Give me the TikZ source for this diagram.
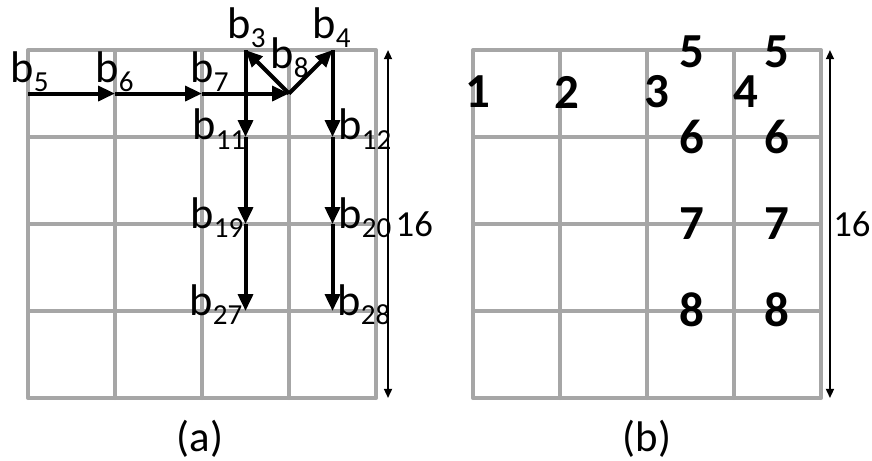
\documentclass[tikz,border=0pt]{standalone}
\usepackage{fontspec}
\setmainfont{Carlito}
\usetikzlibrary{arrows.meta}

% 带下标的块名 b_k
\newcommand{\bk}[1]{b\raisebox{-3pt}{\fontsize{9.5}{9.5}\selectfont #1}}

\begin{document}
\begin{tikzpicture}[>={Triangle[length=5.5pt,width=4.8pt]},
    gridline/.style={draw=black!35, line width=1.3pt, line cap=round},
    flow/.style={->, line width=1.3pt},
    dim/.style={{Triangle[length=3pt,width=2.6pt]}-{Triangle[length=3pt,width=2.6pt]}, line width=0.6pt},
    blab/.style={anchor=base west, inner sep=0pt, font=\fontsize{14.5}{14.5}\selectfont},
    num/.style={inner sep=0pt, font=\bfseries\fontsize{16}{16}\selectfont},
    dimlab/.style={inner sep=0pt, font=\fontsize{12}{12}\selectfont},
    subcap/.style={inner sep=0pt, font=\fontsize{14}{14}\selectfont}]
    \useasboundingbox (-0.322,0.575) rectangle (9.701,-4.713);

    % 两个 4x4 网格
    \draw[gridline] (0,-4) grid (4,0);
    \draw[gridline, xshift=5.115cm] (0,-4) grid (4,0);

    % (a) 中各块的位置
    \coordinate (b5) at (0,-0.5);
    \coordinate (b6) at (1,-0.5);
    \coordinate (b7) at (2,-0.5);
    \coordinate (b8) at (3,-0.5);
    \coordinate (b3) at (2.5,0);
    \coordinate (b4) at (3.5,0);
    \coordinate (b11) at (2.5,-1);
    \coordinate (b12) at (3.5,-1);
    \coordinate (b19) at (2.5,-2);
    \coordinate (b20) at (3.5,-2);
    \coordinate (b27) at (2.5,-3);
    \coordinate (b28) at (3.5,-3);

    % 水平方向
    \draw[flow] (b5) -- (b6);
    \draw[flow] (b6) -- (b7);
    \draw[flow] (b7) -- (b8);
    % 斜向两支
    \draw[flow] (b8) -- (b3);
    \draw[flow] (b8) -- (b4);
    % 竖直方向
    \draw[flow] (b3) -- (b11);
    \draw[flow] (b11) -- (b19);
    \draw[flow] (b19) -- (b27);
    \draw[flow] (b4) -- (b12);
    \draw[flow] (b12) -- (b20);
    \draw[flow] (b20) -- (b28);

    % 块名标注
    \node[blab] (t5) at (-0.207,-0.368) {\bk{5}};
    \node[blab] (t6) at (0.770,-0.368) {\bk{6}};
    \node[blab] (t7) at (1.862,-0.368) {\bk{7}};
    \node[blab] (t3) at (2.287,0.138) {\bk{3}};
    \node[blab] (t8) at (2.782,-0.207) {\bk{8}};
    \node[blab] (t4) at (3.264,0.138) {\bk{4}};
    \node[blab] (t11) at (1.885,-1.034) {\bk{11}};
    \node[blab] (t12) at (3.563,-1.034) {\bk{12}};
    \node[blab] (t19) at (1.862,-2.046) {\bk{19}};
    \node[blab] (t20) at (3.563,-2.046) {\bk{20}};
    \node[blab] (t27) at (1.851,-3.046) {\bk{27}};
    \node[blab] (t28) at (3.552,-3.046) {\bk{28}};

    % 尺寸线 16
    \coordinate (dat) at (4.138,0);
    \coordinate (dab) at (4.138,-4);
    \draw[dim] (dat) -- (dab);
    \node[dimlab] (da) at (4.44,-2) {16};
    \coordinate (dbt) at (9.218,0);
    \coordinate (dbb) at (9.218,-4);
    \draw[dim] (dbt) -- (dbb);
    \node[dimlab] (db) at (9.47,-2) {16};

    % (b) 中的处理顺序
    \node[num] (s1) at (5.172,-0.483) {1};
    \node[num] (s2) at (6.195,-0.483) {2};
    \node[num] (s3) at (7.230,-0.483) {3};
    \node[num] (s4) at (8.253,-0.483) {4};
    \node[num] (s5l) at (7.63,-0.02) {5};
    \node[num] (s5r) at (8.61,-0.02) {5};
    \node[num] (s6l) at (7.63,-1) {6};
    \node[num] (s6r) at (8.61,-1) {6};
    \node[num] (s7l) at (7.63,-1.99) {7};
    \node[num] (s7r) at (8.61,-1.99) {7};
    \node[num] (s8l) at (7.63,-2.99) {8};
    \node[num] (s8r) at (8.61,-2.99) {8};

    % 子图标题
    \node[subcap] (capa) at (1.977,-4.47) {(a)};
    \node[subcap] (capb) at (7.115,-4.47) {(b)};
\end{tikzpicture}
\end{document}
